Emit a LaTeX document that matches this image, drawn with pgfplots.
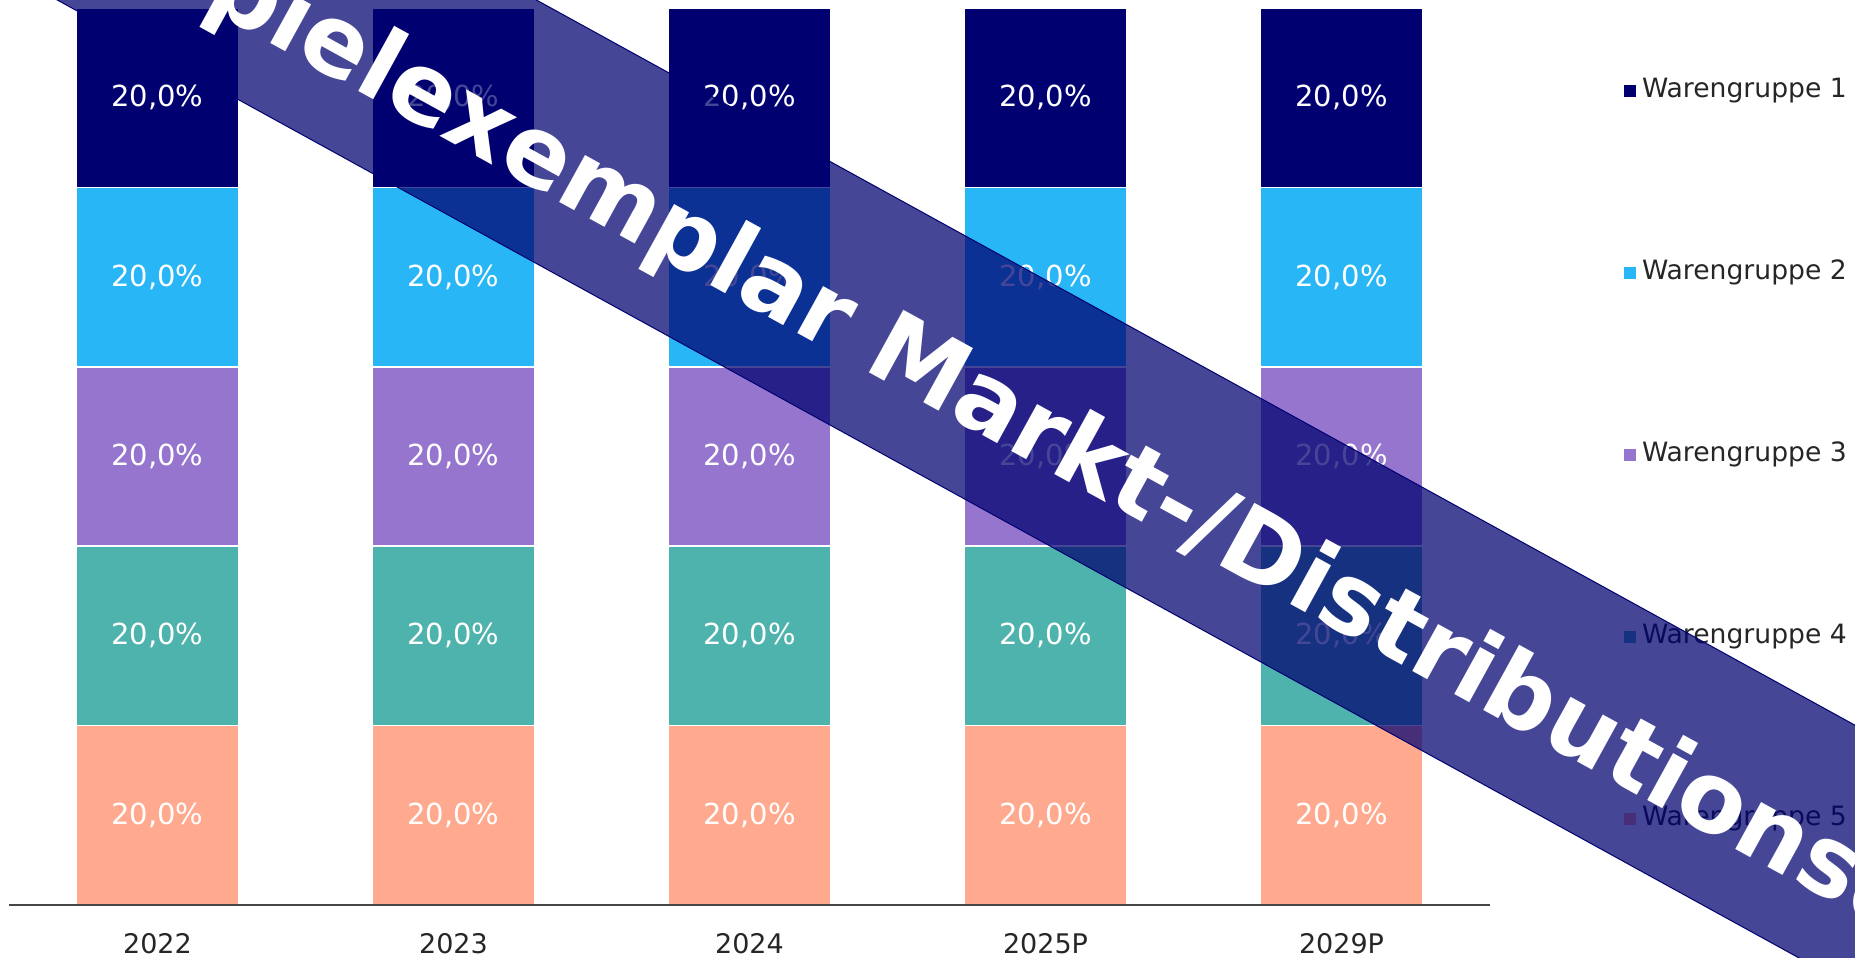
\documentclass[border=0pt]{standalone}
\usepackage{pgfplots}
\pgfplotsset{compat=1.18}
\usepackage{pgfplotstable}
\usepackage{fontspec}
\setmainfont{DejaVu Sans}
\definecolor{wg1}{RGB}{0,0,112}
\definecolor{wg2}{RGB}{41,182,246}
\definecolor{wg3}{RGB}{149,117,205}
\definecolor{wg4}{RGB}{77,179,172}
\definecolor{wg5}{RGB}{255,169,142}
\definecolor{txt}{RGB}{38,38,38}
\definecolor{banner}{RGB}{0,0,112}
\pgfplotstableread{
x wgA wgB wgC wgD wgE
0 20 20 20 20 20
1 20 20 20 20 20
2 20 20 20 20 20
3 20 20 20 20 20
4 20 20 20 20 20
}\data
\begin{document}
\begin{tikzpicture}
\useasboundingbox (-4.75pt,-26pt) rectangle (922.75pt,452.5pt);
\begin{axis}[
  at={(0pt,0pt)}, anchor=south west,
  width=740pt, height=448.5pt, scale only axis,
  ybar stacked, bar width=81pt,
  xmin=-0.5, xmax=4.5, ymin=0, ymax=100,
  axis on top,
  axis x line*=bottom, axis y line=none,
  every non boxed x axis/.append style={x axis line style={-}},
  x axis line style={draw=txt!85, line width=1pt},
  xtick={0,1,2,3,4}, xticklabels={2022,2023,2024,2025P,2029P},
  xtick style={draw=none}, major tick length=0pt,
  xticklabel style={font=\fontsize{13.5}{16}\selectfont, text=txt, yshift=-10.5pt},
  ytick=\empty,
  /pgf/number format/assume math mode=true,
  point meta=rawy,
  nodes near coords={\pgfmathprintnumber[fixed,fixed zerofill,precision=1,use comma]{\pgfplotspointmeta}\%},
  every node near coord/.append style={anchor=center, text=white, font=\fontsize{14.5}{16}\selectfont},
  legend image code/.code={\fill[#1,draw=none] (0pt,-3pt) rectangle (6pt,3pt);},
  reverse legend,
  legend cell align=left,
  legend style={at={(1.0909,0.9225)}, anchor=north west, draw=none, fill=none, inner sep=0pt,
    font=\fontsize{13.3}{15}\selectfont, text=txt, row sep=78pt,
    nodes={inner ysep=0pt, inner xsep=2.8pt, text height=10pt, text depth=3pt}},
]
\addplot[fill=wg5, draw=white, line width=0.75pt] table[x=x,y=wgE]{\data};
\addlegendentry{Warengruppe 5}
\addplot[fill=wg4, draw=white, line width=0.75pt] table[x=x,y=wgD]{\data};
\addlegendentry{Warengruppe 4}
\addplot[fill=wg3, draw=white, line width=0.75pt] table[x=x,y=wgC]{\data};
\addlegendentry{Warengruppe 3}
\addplot[fill=wg2, draw=white, line width=0.75pt] table[x=x,y=wgB]{\data};
\addlegendentry{Warengruppe 2}
\addplot[fill=wg1, draw=white, line width=0.75pt] table[x=x,y=wgA]{\data};
\addlegendentry{Warengruppe 1}
\end{axis}
\begin{scope}
\clip (-4.75pt,-26pt) rectangle (922.75pt,452.5pt);
\fill[banner, fill opacity=0.725, draw=banner, line width=0.5pt]
  (-104.75pt,523.25pt) -- (1045.25pt,-109.25pt) -- (1045.25pt,22.5pt) -- (-104.75pt,655pt) -- cycle;
\node[anchor=base west, rotate=-28.81, inner sep=0pt, text=white, font=\bfseries\fontsize{49}{55}\selectfont] at (425.75pt,268.5pt) {Markt-/Distributionsdaten};
\node[anchor=base east, rotate=-28.81, inner sep=0pt, text=white, font=\bfseries\fontsize{49}{55}\selectfont] at (425.75pt,268.5pt) {Beispielexemplar\kern0.32em};
\end{scope}
\end{tikzpicture}
\end{document}
